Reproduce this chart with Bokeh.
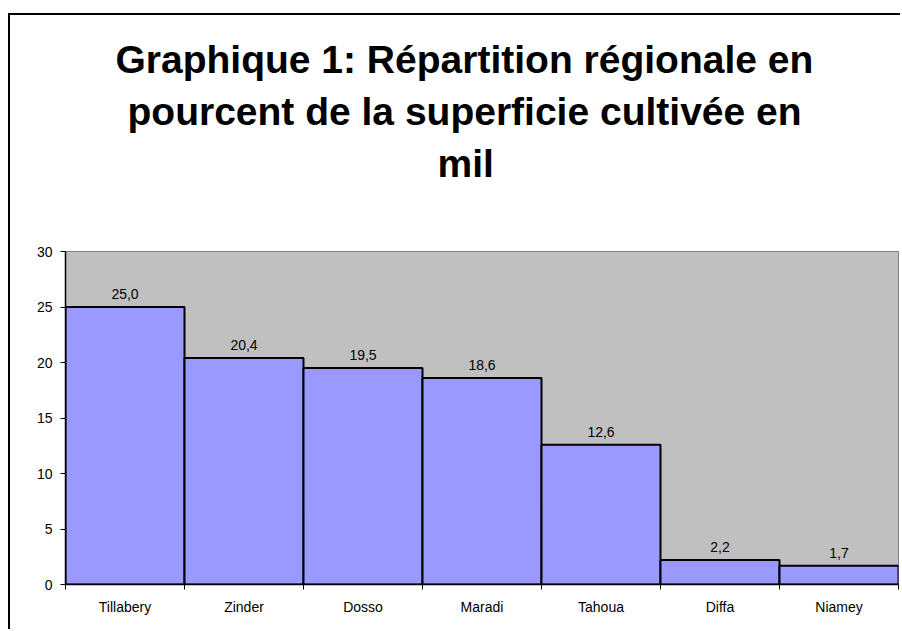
from bokeh.plotting import figure
from bokeh.models import Range1d, FixedTicker, Title, ColumnDataSource
from bokeh.core.properties import value
from bokeh.embed import file_html
from bokeh.resources import INLINE

categories = ["Tillabery", "Zinder", "Dosso", "Maradi", "Tahoua", "Diffa", "Niamey"]
values = [25.0, 20.4, 19.5, 18.6, 12.6, 2.2, 1.7]
y_ticks = [0, 5, 10, 15, 20, 25, 30]
title_lines = ["Graphique 1: Répartition régionale en",
               "pourcent de la superficie cultivée en",
               "mil"]
title_offsets = [50, 62, 372]

n = len(categories)
centers = [i + 0.5 for i in range(n)]
edges = list(range(n + 1))
labels = [f"{v:.1f}".replace(".", ",") for v in values]

src = ColumnDataSource(dict(x=centers, top=values, label=labels, cat=categories))

FONT = "Liberation Sans"

p = figure(width=892, height=616, output_backend="svg", toolbar_location=None,
           x_range=Range1d(0, n), y_range=Range1d(0, 30),
           min_border_left=55, min_border_right=4, min_border_bottom=47, min_border_top=236,
           background_fill_color="#C0C0C0", border_fill_color="white",
           styles={"border-left": "2px solid black", "border-top": "2px solid black",
                   "margin-left": "8px", "margin-top": "13px"})
p.title = None
p.outline_line_color = "#808080"
p.outline_line_width = 1
p.grid.visible = False

# spacer between the title block and the plot area
p.add_layout(Title(text=" ", text_font_size="10px", standoff=50), "above")
for line, off in reversed(list(zip(title_lines, title_offsets))):
    t = Title(text=line, align="left", offset=off, text_font=FONT, text_font_style="bold",
              text_font_size="39px", text_color="black", standoff=7)
    p.add_layout(t, "above")

p.vbar(x="x", width=1, top="top", bottom=0, source=src,
       fill_color="#9999FF", line_color="black", line_width=2)

p.text(x="x", y="top", text="label", source=src, text_align="center",
       text_baseline="alphabetic", y_offset=-13, text_font=value(FONT),
       text_font_size="14px", text_color="black")

# y axis
yax = p.yaxis[0]
yax.ticker = FixedTicker(ticks=y_ticks)
yax.axis_line_color = "black"
yax.axis_line_width = 1.5
yax.major_tick_line_color = "black"
yax.major_tick_out = 5
yax.major_tick_in = 0
yax.minor_tick_line_color = None
yax.major_label_text_font = FONT
yax.major_label_text_font_size = "14px"
yax.major_label_text_color = "black"
yax.major_label_standoff = 8

# x axis
xax = p.xaxis[0]
xax.ticker = FixedTicker(ticks=centers, minor_ticks=edges)
xax.major_label_overrides = {c: cat for c, cat in zip(centers, categories)}
xax.axis_line_color = "black"
xax.axis_line_width = 1.5
xax.major_tick_line_color = None
xax.minor_tick_line_color = "black"
xax.minor_tick_out = 5
xax.minor_tick_in = 0
xax.major_label_text_font = FONT
xax.major_label_text_font_size = "14px"
xax.major_label_text_color = "black"
xax.major_label_standoff = 8

open("out.html", "w").write(file_html(p, INLINE))
